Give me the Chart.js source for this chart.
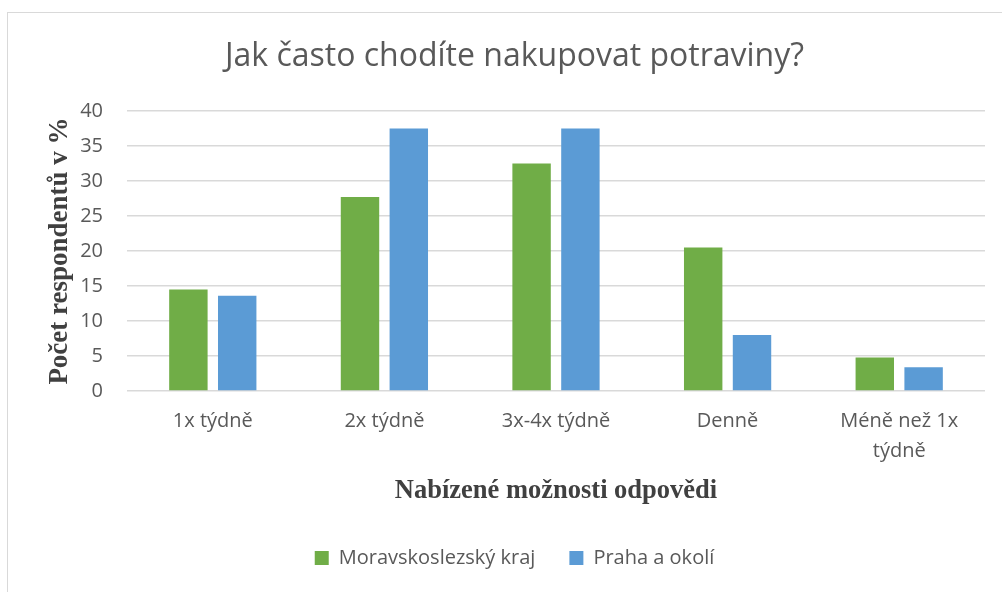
<!DOCTYPE html>
<html>
<head>
<meta charset="utf-8">
<script src="https://cdn.jsdelivr.net/npm/chart.js@4/dist/chart.umd.min.js"></script>
<style>
  html, body { margin: 0; padding: 0; background: #fff; width: 1002px; height: 592px; overflow: hidden; }
  #frame { position: absolute; left: 7px; top: 12px; width: 1100px; height: 700px;
           border-left: 1px solid #d9d9d9; border-top: 1px solid #d9d9d9; }
  #c { position: absolute; left: 8px; top: 13px; }
</style>
</head>
<body>
<div id="frame"></div>
<canvas id="c" width="994" height="579"></canvas>
<script>
const categories = ['1x týdně', '2x týdně', '3x-4x týdně', 'Denně', ['Méně než 1x', 'týdně']];
const moravskoslezsky = [14.5, 27.7, 32.5, 20.5, 4.8];
const praha = [13.6, 37.5, 37.5, 8.0, 3.4];
const seriesNames = ['Moravskoslezský kraj', 'Praha a okolí'];
const chartTitle = 'Jak často chodíte nakupovat potraviny?';
const yTitle = 'Počet respondentů v %';
const xTitle = 'Nabízené možnosti odpovědi';

const textColor = '#595959';
const gridColor = '#d9d9d9';

new Chart(document.getElementById('c'), {
  type: 'bar',
  data: {
    labels: categories,
    datasets: [
      { label: seriesNames[0], data: moravskoslezsky, backgroundColor: '#70ad47' },
      { label: seriesNames[1], data: praha, backgroundColor: '#5b9bd5' }
    ]
  },
  options: {
    responsive: false,
    animation: false,
    categoryPercentage: 0.569,
    barPercentage: 0.787,
    layout: { padding: { left: 36, right: 17, top: 0, bottom: 14 } },
    plugins: {
      title: {
        display: true,
        text: chartTitle,
        color: textColor,
        font: { family: "'Open Sans', sans-serif", size: 32, weight: 400, lineHeight: 1.2 },
        padding: { top: 25, bottom: 34.6 }
      },
      legend: {
        position: 'bottom',
        labels: {
          color: textColor,
          font: { family: "'Open Sans', sans-serif", size: 20 },
          boxWidth: 14,
          boxHeight: 14,
          padding: 34
        }
      },
      tooltip: { enabled: false }
    },
    scales: {
      x: {
        grid: { display: false, drawTicks: false },
        border: { display: false },
        ticks: {
          color: textColor,
          font: { family: "'Open Sans', sans-serif", size: 20, lineHeight: 1.5 },
          padding: 15,
          maxRotation: 0,
          autoSkip: false
        },
        title: {
          display: true,
          text: xTitle,
          color: '#404040',
          font: { family: "'Liberation Serif', 'Times New Roman', serif", size: 26.5, weight: 'bold', lineHeight: 1.2 },
          padding: { top: 0, bottom: 7.4 }
        },
        afterFit: (s) => { s.height = 123; }
      },
      y: {
        min: 0,
        max: 40,
        ticks: {
          stepSize: 5,
          color: textColor,
          font: { family: "'Open Sans', sans-serif", size: 20 },
          padding: 24
        },
        grid: { color: gridColor, lineWidth: 1.5, drawTicks: false },
        border: { display: false },
        title: {
          display: true,
          text: yTitle,
          color: '#404040',
          font: { family: "'Liberation Serif', 'Times New Roman', serif", size: 27, weight: 'bold', lineHeight: 1 },
          padding: { top: 2.5, bottom: 0 }
        },
        afterFit: (s) => { s.width = 83; }
      }
    }
  }
});
</script>
</body>
</html>
